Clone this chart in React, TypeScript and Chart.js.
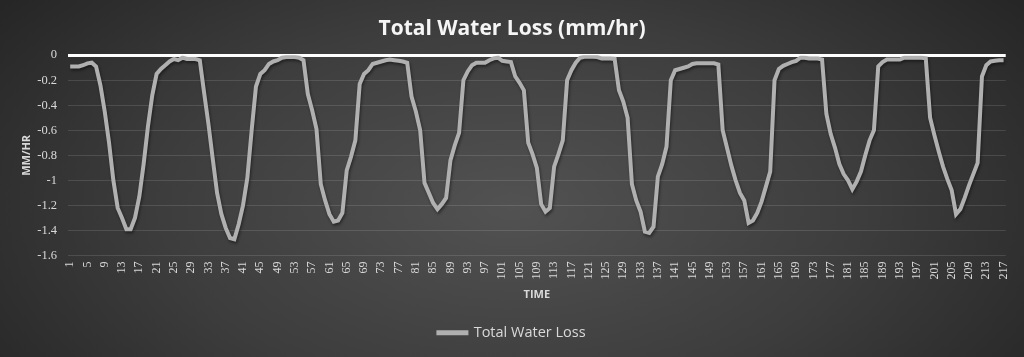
import { useEffect, useRef } from "react";
import { Chart, registerables } from "chart.js";

Chart.register(...registerables);

const TITLE = "Total Water Loss (mm/hr)";
const SERIES_NAME = "Total Water Loss";
const X_TITLE = "TIME";
const Y_TITLE = "MM/HR";
const Y_MIN = -1.6;
const Y_MAX = 0;
const Y_STEP = 0.2;
const LABEL_EVERY = 4;

// Total water loss (mm/hr), time steps 1..217
const LOSS_1_TO_80 = [
  -0.09, -0.09, -0.09, -0.08, -0.065, -0.06, -0.09, -0.24, -0.45, -0.7,
  -1.0, -1.22, -1.3, -1.39, -1.39, -1.3, -1.13, -0.87, -0.57, -0.32,
  -0.15, -0.11, -0.08, -0.05, -0.03, -0.04, -0.02, -0.03, -0.03, -0.03,
  -0.04, -0.3, -0.55, -0.83, -1.1, -1.27, -1.38, -1.46, -1.47, -1.35,
  -1.2, -0.98, -0.6, -0.25, -0.15, -0.12, -0.07, -0.05, -0.04, -0.02,
  -0.015, -0.015, -0.015, -0.02, -0.04, -0.31, -0.44, -0.59, -1.03, -1.16,
  -1.27, -1.33, -1.32, -1.26, -0.92, -0.81, -0.68, -0.23, -0.15, -0.12,
  -0.07, -0.06, -0.05, -0.04, -0.035, -0.04, -0.045, -0.05, -0.06, -0.33,
];
const LOSS_81_TO_160 = [
  -0.45, -0.6, -1.02, -1.1, -1.18, -1.23, -1.19, -1.14, -0.84, -0.72,
  -0.62, -0.2, -0.13, -0.08, -0.06, -0.06, -0.06, -0.04, -0.025, -0.02,
  -0.045, -0.05, -0.055, -0.17, -0.22, -0.28, -0.7, -0.79, -0.9, -1.19,
  -1.25, -1.22, -0.89, -0.79, -0.68, -0.2, -0.12, -0.06, -0.02, -0.013,
  -0.013, -0.013, -0.015, -0.027, -0.027, -0.027, -0.03, -0.28, -0.37, -0.5,
  -1.03, -1.16, -1.25, -1.41, -1.42, -1.37, -0.97, -0.87, -0.73, -0.2,
  -0.12, -0.11, -0.1, -0.09, -0.07, -0.065, -0.065, -0.065, -0.065, -0.065,
  -0.075, -0.6, -0.74, -0.88, -1.0, -1.1, -1.16, -1.34, -1.32, -1.26,
];
const LOSS_161_TO_217 = [
  -1.17, -1.05, -0.93, -0.2, -0.11, -0.085, -0.07, -0.055, -0.045, -0.02,
  -0.02, -0.027, -0.027, -0.027, -0.035, -0.47, -0.63, -0.74, -0.87, -0.95,
  -1.0, -1.07, -1.01, -0.93, -0.8, -0.68, -0.6, -0.09, -0.055, -0.035,
  -0.035, -0.035, -0.035, -0.02, -0.02, -0.02, -0.02, -0.02, -0.025, -0.5,
  -0.64, -0.77, -0.89, -0.99, -1.08, -1.27, -1.23, -1.14, -1.04, -0.95,
  -0.86, -0.17, -0.08, -0.05, -0.045, -0.04, -0.04,
];

const WATER_LOSS = [...LOSS_1_TO_80, ...LOSS_81_TO_160, ...LOSS_161_TO_217];
const TIME_STEPS = WATER_LOSS.map((_, i) => String(i + 1));

const TEXT_COLOR = "#d9d9d9";
const LINE_COLOR = "#b0b0b0";

const lineShadow = {
  id: "lineShadow",
  beforeDatasetsDraw(chart: any) {
    const ctx = chart.ctx;
    ctx.save();
    ctx.shadowColor = "rgba(0,0,0,0.45)";
    ctx.shadowBlur = 3;
    ctx.shadowOffsetX = 1;
    ctx.shadowOffsetY = 2;
  },
  afterDatasetsDraw(chart: any) {
    chart.ctx.restore();
  },
};

export default function App() {
  const canvasRef = useRef<HTMLCanvasElement | null>(null);

  useEffect(() => {
    if (!canvasRef.current) return;
    const chart = new Chart(canvasRef.current, {
      type: "line",
      data: {
        labels: TIME_STEPS,
        datasets: [
          {
            label: SERIES_NAME,
            data: WATER_LOSS,
            borderColor: LINE_COLOR,
            backgroundColor: LINE_COLOR,
            borderWidth: 4,
            pointRadius: 0,
            tension: 0,
            fill: false,
          },
        ],
      },
      options: {
        responsive: false,
        animation: false,
        layout: { padding: { left: 16, right: 16, top: 0, bottom: 7 } },
        plugins: {
          title: {
            display: true,
            text: TITLE,
            color: "#f5f5f5",
            font: { family: "Open Sans", size: 21, weight: "bold" },
            padding: { top: 16, bottom: 14 },
          },
          legend: {
            position: "bottom",
            labels: {
              color: TEXT_COLOR,
              font: { family: "Open Sans", size: 14.5 },
              boxWidth: 28,
              boxHeight: 1,
              padding: 10,
            },
          },
          tooltip: { enabled: false },
        },
        scales: {
          x: {
            type: "category",
            offset: true,
            grid: { display: false, drawTicks: false },
            border: { display: false },
            ticks: {
              autoSkip: false,
              maxRotation: 90,
              minRotation: 90,
              padding: 6,
              color: TEXT_COLOR,
              font: { family: "Liberation Serif", size: 12 },
              callback: function (this: any, v: any, i: number) {
                return i % LABEL_EVERY === 0 ? this.getLabelForValue(v) : "";
              },
            },
            title: {
              display: true,
              text: X_TITLE,
              color: TEXT_COLOR,
              font: { family: "Open Sans", size: 11, weight: "bold" },
              padding: { top: 0, bottom: 14 },
            },
            afterFit(scale: any) {
              scale.height = 60;
            },
          },
          y: {
            min: Y_MIN,
            max: Y_MAX,
            ticks: {
              stepSize: Y_STEP,
              padding: 11,
              color: TEXT_COLOR,
              font: { family: "Liberation Serif", size: 12.5 },
              callback: (v: any) => String(Math.round(Number(v) * 10) / 10),
            },
            grid: {
              drawTicks: false,
              color: (ctx: any) =>
                ctx.tick && Math.abs(ctx.tick.value) < 1e-9 ? "#ffffff" : "rgba(255,255,255,0.12)",
              lineWidth: (ctx: any) =>
                ctx.tick && Math.abs(ctx.tick.value) < 1e-9 ? 3 : 1,
            },
            border: { display: false },
            title: {
              display: true,
              text: Y_TITLE,
              color: TEXT_COLOR,
              font: { family: "Open Sans", size: 11, weight: "bold" },
              padding: { top: 4, bottom: 0 },
            },
            afterFit(scale: any) {
              scale.width = 52;
            },
          },
        },
      },
      plugins: [lineShadow],
    } as any);
    return () => chart.destroy();
  }, []);

  return (
    <div
      style={{
        position: "fixed",
        left: 0,
        top: 0,
        width: 1024,
        height: 357,
        background:
          "radial-gradient(ellipse 62% 95% at 50% 58%, #525252 0%, #3d3d3d 55%, #262626 100%)",
      }}
    >
      <canvas ref={canvasRef} width={1024} height={357} />
    </div>
  );
}
